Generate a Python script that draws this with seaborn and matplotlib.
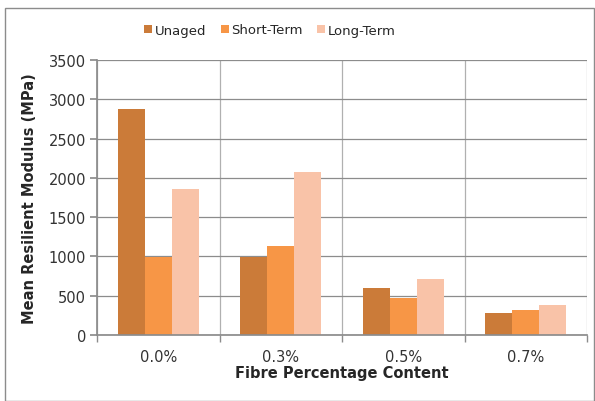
import numpy as np
import pandas as pd
import matplotlib
matplotlib.use('Agg')
import matplotlib.pyplot as plt
import seaborn as sns
from matplotlib.patches import Rectangle

# data
fibre = ['0.0%', '0.3%', '0.5%', '0.7%']
unaged = [2880, 990, 598, 280]
short_term = [993, 1133, 471, 318]
long_term = [1855, 2075, 713, 382]
series = ['Unaged', 'Short-Term', 'Long-Term']
colors = ['#CB7B39', '#F79646', '#F9C3A8']

df = pd.DataFrame({
    'fibre': fibre * 3,
    'series': [s for s in series for _ in fibre],
    'value': unaged + short_term + long_term,
})

sns.set_theme(style='white')
plt.rcParams['font.family'] = ['DejaVu Sans']

fig = plt.figure(figsize=(5.95, 4.02), dpi=100)
ax = fig.add_axes([97 / 595, 1 - 336 / 402, 490 / 595, 275 / 402])

sns.barplot(data=df, x='fibre', y='value', hue='series', palette=colors,
            width=0.66, saturation=1, linewidth=0, ax=ax, legend=True)

ax.set_ylim(0, 3500)
ax.set_xlim(-0.5, 3.5)
ax.set_yticks(np.arange(0, 3501, 500))
ax.set_xticks(np.arange(4))
ax.set_xticks(np.arange(-0.5, 3.6, 1), minor=True)
ax.grid(axis='y', color='#8c8c8c', linewidth=0.9)
ax.grid(axis='x', which='minor', color='#b0b0b0', linewidth=0.9)
ax.set_axisbelow(True)
for s in ['top', 'right']:
    ax.spines[s].set_visible(False)
ax.spines['left'].set_color('#8c8c8c')
ax.spines['bottom'].set_color('#8c8c8c')
ax.tick_params(axis='x', which='major', length=0, labelsize=10.5, pad=10, colors='#333333')
ax.tick_params(axis='x', which='minor', length=5, color='#8c8c8c', bottom=True)
ax.tick_params(axis='y', length=5, color='#8c8c8c', left=True, labelsize=10.5, pad=3,
               colors='#333333')
ax.set_xlabel('Fibre Percentage Content', fontsize=10.5, fontweight='bold', labelpad=1)
ax.set_ylabel('Mean Resilient Modulus (MPa)', fontsize=10.5, fontweight='bold', labelpad=8)

leg = ax.legend(loc='center', bbox_to_anchor=(270 / 595, 1 - 31 / 402),
                bbox_transform=fig.transFigure, ncol=3, frameon=False,
                fontsize=9.5, handlelength=0.6, handleheight=0.6, handletextpad=0.2,
                columnspacing=1.1)

# outer chart border
fig.patches.append(Rectangle((5 / 595, 0), 589 / 595, 1 - 9 / 402, transform=fig.transFigure,
                             fill=False, edgecolor='#8c8c8c', linewidth=1))

fig.savefig('out.png', dpi=100)
